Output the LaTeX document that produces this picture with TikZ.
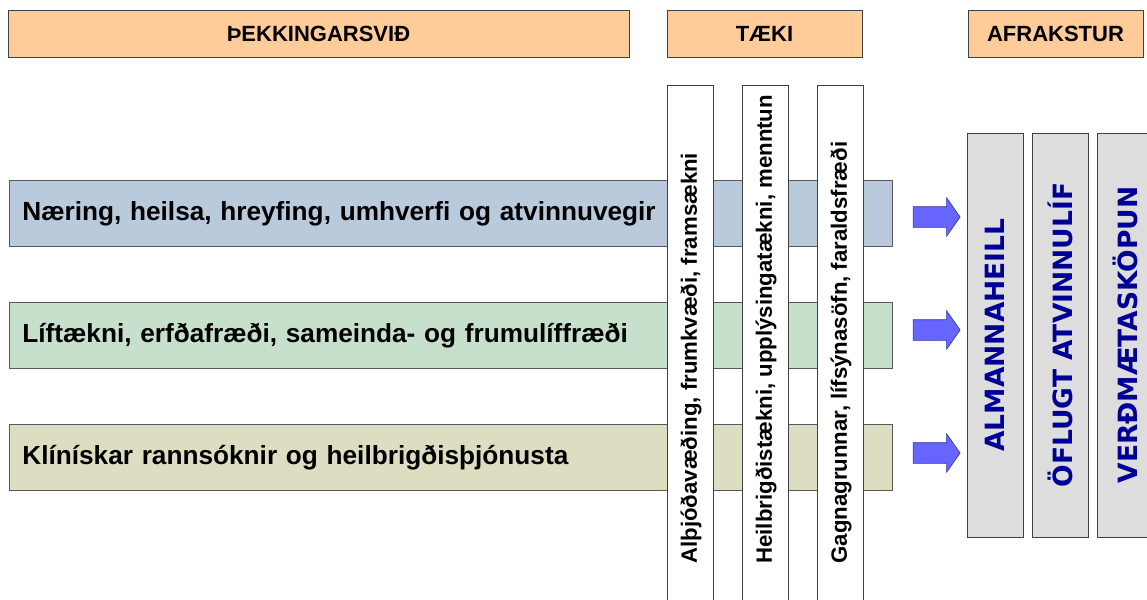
\documentclass[tikz,border=0pt]{standalone}
\usepackage{fontspec}
\setmainfont{Liberation Sans}
\newfontfamily\verdfont{DejaVu Sans}
\usepackage{xcolor}
\usepackage{tikz}
\usetikzlibrary{shapes.arrows, positioning}
\definecolor{peach}{RGB}{255,204,153}
\definecolor{fieldblue}{RGB}{185,202,221}
\definecolor{fieldgreen}{RGB}{198,224,203}
\definecolor{fieldbeige}{RGB}{221,221,194}
\definecolor{outgray}{RGB}{221,221,221}
\definecolor{arrowfill}{RGB}{102,102,255}
\definecolor{arrowline}{RGB}{51,51,153}
\definecolor{navytext}{RGB}{0,0,150}

\begin{document}
\begin{tikzpicture}[x=1pt, y=1pt, thick, inner sep=0pt]
\tikzstyle{header}=[draw=black!75, fill=peach, minimum height=47pt,
                    font=\fontsize{22}{24}\selectfont\bfseries]
\tikzstyle{field}=[draw=black!65, anchor=north west, minimum height=66pt,
                    inner xsep=13pt, text width=857pt, align=left,
                    font=\fontsize{26.2}{29}\selectfont\bfseries]
\tikzstyle{tool}=[draw=black!75, fill=white, anchor=north west,
                    minimum width=46pt, minimum height=540pt]
\tikzstyle{tooltext}=[rotate=90, anchor=west,
                    font=\fontsize{22.2}{25}\selectfont\bfseries]
\tikzstyle{goal}=[draw=black!75, fill=outgray, rotate=90,
                    minimum width=404pt, minimum height=56pt, text=navytext,
                    font=\verdfont\fontsize{26.5}{29}\selectfont\bfseries]
\tikzstyle{push}=[single arrow, draw=arrowline, fill=arrowfill, semithick,
                    minimum height=47pt, inner xsep=0pt, inner ysep=10pt,
                    single arrow head extend=9pt, single arrow tip angle=110]
  \useasboundingbox (0,0) rectangle (1147,-599);
  % column headers
  \node[header, minimum width=621pt] (Hfield) at (318.5,-33.5) {ÞEKKINGARSVIÐ};
  \node[header, minimum width=195pt] (Htool)  at (764.5,-33.5) {TÆKI};
  \node[header, minimum width=175pt] (Hgoal)  at (1055.5,-33.5) {AFRAKSTUR};
  % fields of knowledge
  \node[field, fill=fieldblue]  (F1) at (9,-180) {Næring, heilsa, hreyfing, umhverfi og atvinnuvegir};
  \node[field, fill=fieldgreen] (F2) at (9,-302) {Líftækni, erfðafræði, sameinda- og frumulíffræði};
  \node[field, fill=fieldbeige] (F3) at (9,-424) {Klínískar rannsóknir og heilbrigðisþjónusta};
  % tools
  \node[tool] (T1) at (667,-85) {};
  \node[tool] (T2) at (742,-85) {};
  \node[tool] (T3) at (817,-85) {};
  \node[tooltext] (T1txt) at (691,-564) {Alþjóðavæðing, frumkvæði, framsækni};
  \node[tooltext] (T2txt) at (766,-564) {Heilbrigðistækni, upplýsingatækni, menntun};
  \node[tooltext] (T3txt) at (841,-564) {Gagnagrunnar, lífsýnasöfn, faraldsfræði};
  % arrows
  \node[push] (A1) at (933,-217) {};
  \node[push] (A2) at (933,-330) {};
  \node[push] (A3) at (933,-453) {};
  % outcomes
  \node[goal] (G1) at (995,-335)  {ALMANNAHEILL};
  \node[goal] (G2) at (1060.5,-335) {ÖFLUGT ATVINNULÍF};
  \node[goal] (G3) at (1125,-335) {VERÐMÆTASKÖPUN};
\end{tikzpicture}
\end{document}
